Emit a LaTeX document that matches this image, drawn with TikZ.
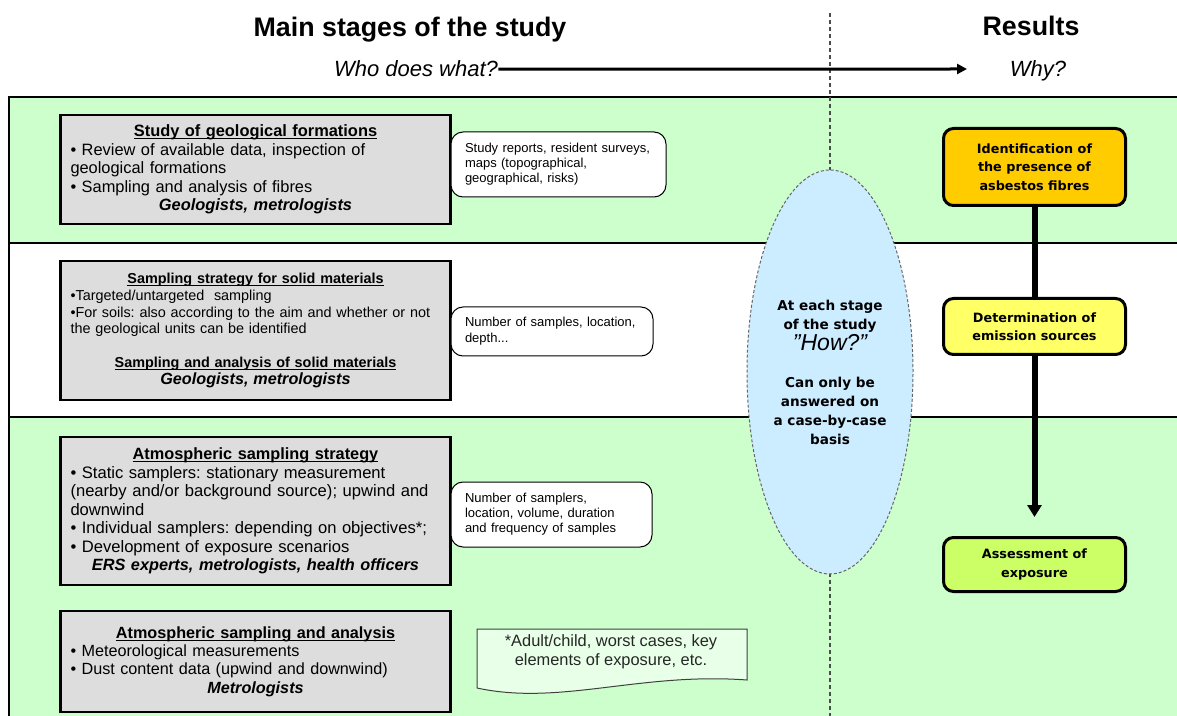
\documentclass[tikz,border=0pt]{standalone}
\usepackage{fontspec}
\setmainfont{Liberation Sans}
\newfontfamily\verdana{DejaVu Sans}
\usepackage{xcolor}
\usepackage{tikz}
\usetikzlibrary{shapes.geometric, arrows.meta, positioning}

\definecolor{bandgreen}{HTML}{CCFFCC}
\definecolor{boxgray}{HTML}{DDDDDD}
\definecolor{howblue}{HTML}{CCECFF}
\definecolor{identorange}{HTML}{FFCC00}
\definecolor{emisyellow}{HTML}{FFFF66}
\definecolor{expolime}{HTML}{CCFF66}
\definecolor{notegreen}{HTML}{E8FFE8}

\newcommand\stagetitle[1]{\leavevmode\setbox0\hbox{\textbf{#1}}\rlap{\rule[-1.3pt]{\wd0}{0.5pt}}\box0}
\newcommand\stagewho[1]{\textbf{\textit{#1}}}

\begin{document}
\frenchspacing
\begin{tikzpicture}[x=0.5pt, y=-0.5pt,
    font=\fontsize{8.2}{9.25}\selectfont,
    band/.style={draw=black, line width=0.6pt},
    divider/.style={draw=black!70, line width=0.6pt, dash pattern=on 2pt off 1.5pt},
    headtitle/.style={font=\fontsize{13.4}{15}\selectfont\bfseries, inner sep=0pt, anchor=base},
    headsub/.style={font=\fontsize{11}{13}\selectfont\itshape, inner sep=0pt, anchor=base},
    headarrow/.style={-{Triangle[length=5pt, width=5pt]}, line width=1.5pt},
    stagebox/.style={draw=black, line width=1.4pt, fill=boxgray, minimum width=195pt, text width=185pt, inner xsep=5pt, align=left},
    callout/.style={draw=black, line width=0.5pt, fill=white, rounded corners=6pt, inner xsep=7pt, align=left, font=\fontsize{6.5}{7.5}\selectfont},
    howellipse/.style={ellipse, draw=black!60, dash pattern=on 1.5pt off 1pt, line width=0.5pt, fill=howblue, minimum width=83pt, minimum height=202pt, inner sep=0pt, align=center, font=\verdana\bfseries\fontsize{6.8}{9.5}\selectfont},
    resultbox/.style={draw=black, line width=1.5pt, rounded corners=5pt, minimum width=91pt, align=center, font=\verdana\bfseries\fontsize{6.4}{9.2}\selectfont},
    flowline/.style={line width=3pt},
    notetext/.style={align=center, text=black!85, font=\fontsize{8.2}{9.5}\selectfont},
    notebox/.style={draw=black!75, line width=0.5pt, fill=notegreen}
]
\useasboundingbox (0,0) rectangle (1177,716);

% === BANDS ===
\foreach \top/\bot/\col in {97/243/bandgreen, 243/417/white, 417/740/bandgreen} {
    \draw[band, fill=\col] (9,\top) rectangle (1200,\bot);
}
\draw[divider] (830,13) -- (830,716);

% === HEADER ===
\node[headtitle] (stages) at (410,37) {Main stages of the study};
\node[headtitle] (results) at (1031,36) {Results};
\node[headsub] (who) at (416,77) {Who does what?};
\node[headsub] (why) at (1038,77) {Why?};
\coordinate (whyend) at (967,69);
\draw[headarrow] (who.east) -- (whyend);

% === STAGES ===
\node[stagebox, minimum height=54.5pt] (geo) at (255.5,169.5) {%
    {\centering\stagetitle{Study of geological formations}\par}
    \textbullet{} Review of available data, inspection of\\
    geological formations\\
    \textbullet{} Sampling and analysis of fibres\par
    {\centering\stagewho{Geologists, metrologists}\par}};

\node[stagebox, minimum height=69.5pt, font=\fontsize{7.2}{8.35}\selectfont] (solid) at (255.5,330.5) {%
    {\centering\stagetitle{Sampling strategy for solid materials}\par}
    \textbullet Targeted/untargeted\ \ sampling\\
    \textbullet For soils: also according to the aim and whether or not\\
    the geological units can be identified\par
    \vspace{8.4pt}
    {\centering\stagetitle{Sampling and analysis of solid materials}\par}
    {\centering\fontsize{8.1}{8.5}\selectfont\stagewho{Geologists, metrologists}\par}};

\node[stagebox, minimum height=74pt, font=\fontsize{8.3}{9.25}\selectfont] (atmstrat) at (255.5,511) {%
    {\centering\fontsize{8.15}{9.25}\selectfont\stagetitle{Atmospheric sampling strategy}\par}
    \textbullet{} Static samplers: stationary measurement\\
    (nearby and/or background source); upwind and\\
    downwind\\
    \textbullet{} Individual samplers: depending on objectives*;\\
    \textbullet{} Development of exposure scenarios\par
    {\centering\fontsize{8.15}{9.25}\selectfont\stagewho{ERS experts, metrologists, health officers}\par}};

\node[stagebox, minimum height=50.5pt, font=\fontsize{8.1}{9.2}\selectfont] (atmanal) at (255.5,661.5) {%
    {\centering\stagetitle{Atmospheric sampling and analysis}\par}
    \textbullet{} Meteorological measurements\\
    \textbullet{} Dust content data (upwind and downwind)\par
    {\centering\stagewho{Metrologists}\par}};

% === CALLOUTS ===
\node[callout, text width=93.5pt, minimum height=32.5pt] (geodata) at (558.5,164.5)
    {Study reports, resident surveys,\\ maps (topographical,\\ geographical, risks)};
\node[callout, text width=87pt, minimum height=24.5pt, font=\fontsize{6.5}{8}\selectfont] (soliddata) at (552,331.5)
    {Number of samples, location,\\ depth...};
\node[callout, text width=86.5pt, minimum height=32.5pt] (atmdata) at (551.5,514.5)
    {Number of samplers,\\ location, volume, duration\\ and frequency of samples};

% === NOTE ===
\draw[notebox] (477,629) -- (747,629) -- (747,680)
    .. controls (640,672) and (560,706) .. (477,688) -- cycle;
\node[notetext] (footnote) at (611,652) {*Adult/child, worst cases, key\\ elements of exposure, etc.};

% === HOW ===
\node[howellipse] (how) at (830,372) {%
    At each stage\\ of the study\\[1pt]
    {\normalfont\itshape\fontsize{11.5}{12}\selectfont ”How?”}\\[9pt]
    Can only be\\ answered on\\ a case-by-case\\ basis};

% === RESULTS ===
\node[resultbox, fill=identorange, minimum height=38.5pt] (ident) at (1034.5,167)
    {Identification of\\ the presence of\\ asbestos fibres};
\node[resultbox, fill=emisyellow, minimum height=28pt] (emis) at (1034.5,326.5)
    {Determination of\\ emission sources};
\node[resultbox, fill=expolime, minimum height=27pt] (expo) at (1034.5,564.5)
    {Assessment of\\ exposure};
\coordinate (expotip) at (1034.5,517);

\draw[flowline] (ident.south) -- (emis.north);
\draw[flowline, -{Triangle[length=6pt, width=7pt]}] (emis.south) -- (expotip);

\end{tikzpicture}
\end{document}
